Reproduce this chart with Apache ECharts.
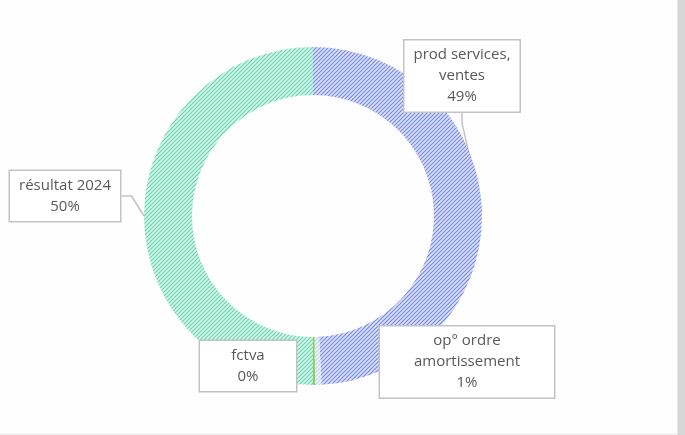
<!DOCTYPE html>
<html>
<head>
<meta charset="utf-8">
<script src="https://cdn.jsdelivr.net/npm/echarts@6/dist/echarts.min.js"></script>
<style>
  html, body { margin: 0; padding: 0; background: #fff; }
  #wrap { position: relative; width: 685px; height: 435px; overflow: hidden; }
  #chart { position: absolute; left: 0; top: 0; width: 677px; height: 433px; background: #fefefe; }
  #edge { position: absolute; left: 677px; top: 0; width: 8px; height: 435px; background: #d7d7d7; border-left: 1px solid #e6e6e6; }
  #bottom { position: absolute; left: 0; top: 433px; width: 677px; height: 2px; background: #f2f2f2; }
</style>
</head>
<body>
<div id="wrap">
  <div id="chart"></div>
  <div id="edge"></div>
  <div id="bottom"></div>
</div>
<script>
// parts of the donut, clockwise from 12 o'clock
const categories = ['prod services,\nventes', 'op° ordre\namortissement', 'fctva', 'résultat 2024']
const values = [49.2, 0.6, 0.2, 50.0]

// where each callout box sits (centre of the box) and its size
const boxes = [
  { cx: 462, cy: 76, w: 105, pad: [4, 5] },
  { cx: 467, cy: 362, w: 164, pad: [4, 5] },
  { cx: 248, cy: 366, w: 86, pad: [4, 5] },
  { cx: 65, cy: 196, w: 100, pad: [4, 5] }
]

// diagonal hatch like the excel pattern fill
function hatch(bg, fg) {
  const c = document.createElement('canvas')
  c.width = 4
  c.height = 4
  const ctx = c.getContext('2d')
  ctx.fillStyle = bg
  ctx.fillRect(0, 0, 4, 4)
  ctx.strokeStyle = fg
  ctx.lineWidth = 1.2
  ctx.beginPath()
  ctx.moveTo(-1, 5); ctx.lineTo(5, -1)
  ctx.moveTo(-3, 3); ctx.lineTo(3, -3)
  ctx.moveTo(1, 7); ctx.lineTo(7, 1)
  ctx.stroke()
  return { image: c, repeat: 'repeat' }
}

const fills = [
  hatch('#dde3f9', '#7789e0'),
  hatch('#f4f8fd', '#bcd3ee'),
  '#92d050',
  hatch('#d8f6ec', '#66d4b1')
]

const chart = echarts.init(document.getElementById('chart'))

chart.setOption({
  animation: false,
  series: [{
    type: 'pie',
    center: [313, 216],
    radius: [121, 169],
    startAngle: 90,
    clockwise: true,
    avoidLabelOverlap: false,
    percentPrecision: 0,
    itemStyle: { borderWidth: 0 },
    label: {
      show: true,
      formatter: '{b}\n{d}%',
      color: '#595959',
      fontFamily: 'Open Sans',
      fontSize: 15,
      lineHeight: 21,
      align: 'center',
      backgroundColor: '#fff',
      borderColor: '#c3c3c3',
      borderWidth: 1.5
    },
    labelLine: {
      show: true,
      length: 10,
      length2: 10,
      lineStyle: { color: '#c3c3c3', width: 1.5 }
    },
    labelLayout: function (p) {
      const b = boxes[p.dataIndex]
      return { x: b.cx, y: b.cy, align: 'center', verticalAlign: 'middle' }
    },
    data: categories.map((name, i) => ({
      name: name,
      value: values[i],
      itemStyle: { color: fills[i] },
      label: { width: boxes[i].w, padding: boxes[i].pad }
    }))
  }]
})
</script>
</body>
</html>
